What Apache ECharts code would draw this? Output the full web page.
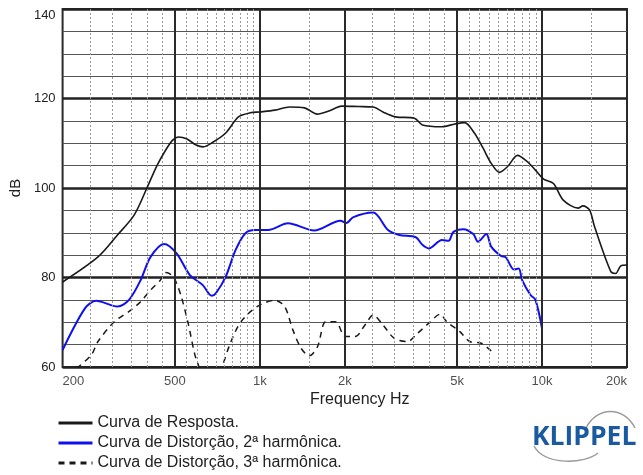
<!DOCTYPE html>
<html>
<head>
<meta charset="utf-8">
<script src="https://cdn.jsdelivr.net/npm/echarts/dist/echarts.min.js"></script>
<style>
  html, body { margin: 0; padding: 0; background: #fff; }
  #chart { width: 643px; height: 475px; }
</style>
</head>
<body>
<div id="chart"></div>
<script>
// frequency response (Hz / dB)
const respFreq = [200, 267, 313, 359, 398, 432, 464, 491, 515, 550, 595, 630, 677, 757, 840, 925, 1000, 1131, 1275, 1440, 1597, 1757, 1950, 2236, 2520, 2730, 3030, 3529, 3767, 4419, 4910, 5315, 5756, 6170, 6605, 7062, 7551, 8183, 8867, 9477, 10130, 10975, 11890, 13416, 13960, 14735, 15340, 17535, 18250, 19000, 20000];
const respDb = [79.0, 84.6, 89.5, 94.0, 100.0, 105.0, 108.5, 110.7, 111.4, 111.0, 109.6, 109.2, 110.1, 112.3, 115.9, 116.8, 117.0, 117.4, 118.1, 117.9, 116.5, 117.2, 118.3, 118.2, 118.1, 117.0, 115.9, 115.6, 114.1, 113.7, 114.3, 114.6, 112.3, 109.0, 105.5, 103.5, 104.8, 107.3, 105.9, 104.0, 102.0, 101.0, 97.3, 95.5, 96.0, 95.1, 91.4, 81.3, 80.9, 82.6, 82.8];

// 2nd harmonic distortion
const h2Freq = [200, 240, 263, 313, 344, 378, 410, 458, 507, 564, 628, 675, 699, 757, 820, 889, 963, 1071, 1258, 1558, 1929, 2025, 2147, 2520, 2845, 3120, 3570, 3767, 3970, 4419, 4664, 4853, 5265, 5706, 5930, 6350, 6605, 7158, 7442, 7950, 8270, 8500, 9100, 9477, 10000];
const h2Db = [63.8, 73.1, 74.8, 73.5, 75.0, 79.4, 84.6, 87.5, 85.4, 80.6, 78.3, 75.9, 76.5, 80.2, 86.1, 89.9, 90.6, 90.6, 92.1, 90.5, 92.7, 92.2, 93.5, 94.5, 90.6, 89.5, 89.0, 87.3, 86.5, 88.4, 88.2, 90.2, 90.8, 89.7, 88.0, 89.7, 86.9, 84.8, 84.5, 81.8, 82.0, 79.4, 76.1, 75.0, 68.6];

// 3rd harmonic distortion
const h3Freq = [224, 253, 267, 305, 349, 378, 410, 444, 465, 490, 507, 527, 557, 587, 603, 650, 700, 737, 777, 842, 913, 1002, 1131, 1225, 1309, 1400, 1497, 1600, 1712, 1854, 2010, 2177, 2359, 2520, 2730, 2996, 3337, 3617, 3970, 4357, 4598, 5115, 5544, 6089, 6605];
const h3Db = [59.7, 62.7, 65.7, 70.1, 72.7, 74.6, 77.2, 79.4, 81.1, 80.4, 78.7, 75.7, 69.8, 63.0, 60.8, 55.0, 55.0, 60.1, 64.5, 69.4, 72.0, 73.9, 74.9, 73.5, 68.3, 64.2, 62.5, 64.5, 70.1, 70.1, 66.8, 66.8, 69.4, 71.6, 69.4, 66.4, 65.7, 67.5, 69.8, 71.8, 70.1, 67.9, 65.7, 65.3, 63.6];

// axis ticks
const xTickVals = [200, 500, 1000, 2000, 5000, 10000, 20000];
const xTickLabels = ['200', '500', '1k', '2k', '5k', '10k', '20k'];
const majorX = [500, 1000, 2000, 5000, 10000];
const minorX = [250, 300, 350, 400, 450, 550, 600, 650, 700, 750, 800, 850, 900, 950, 1500, 2500, 3000, 3500, 4000, 4500, 5500, 6000, 6500, 7000, 7500, 8000, 8500, 9000, 9500, 15000];

const names = ['Curva de Resposta.', 'Curva de Distorção, 2ª harmônica.', 'Curva de Distorção, 3ª harmônica.'];

const font = '"Liberation Sans", Arial, sans-serif';
const zip = (xs, ys) => xs.map((x, i) => [x, ys[i]]);

const chart = echarts.init(document.getElementById('chart'));

const gridLines = majorX.map(v => ({ xAxis: v, lineStyle: { color: '#2a2a2a', width: 2, type: 'solid' } }))
  .concat(minorX.map(v => ({ xAxis: v, lineStyle: { color: '#999', width: 1, type: [2, 2] } })));

chart.setOption({
  animation: false,
  textStyle: { fontFamily: font },
  grid: { left: 56, right: 16, top: 9, bottom: 108, show: true, borderColor: '#2a2a2a', borderWidth: 2, backgroundColor: '#fff' },
  title: {
    text: 'Frequency Hz', left: 310, top: 392, padding: 0,
    textStyle: { fontSize: 16, fontWeight: 'normal', color: '#222', fontFamily: font }
  },
  legend: {
    orient: 'vertical', left: 57, top: 415, padding: 0, height: 70,
    itemWidth: 34, itemHeight: 14, itemGap: 4,
    data: names,
    itemStyle: { opacity: 0 },
    lineStyle: { width: 3 },
    textStyle: { fontSize: 16, color: '#222', fontFamily: font }
  },
  xAxis: {
    type: 'log', logBase: 10, min: 200, max: 20000,
    axisLabel: { show: false }, axisTick: { show: false }, axisLine: { show: false },
    splitLine: { show: false }, minorSplitLine: { show: false }
  },
  yAxis: {
    type: 'value', min: 60, max: 140, interval: 20,
    name: 'dB', nameLocation: 'middle', nameGap: 31,
    nameTextStyle: { fontSize: 15, color: '#222', fontFamily: font },
    axisLabel: { fontSize: 13, color: '#222', margin: 7, verticalAlignMaxLabel: 'top', fontFamily: font },
    axisTick: { show: false }, axisLine: { show: false },
    splitLine: { lineStyle: { color: '#222', width: 2.5 } },
    minorTick: { show: false, splitNumber: 4 },
    minorSplitLine: { show: true, lineStyle: { color: '#555', width: 1 } }
  },
  graphic: [
    { type: 'bezierCurve', shape: { x1: 586, y1: 428, x2: 635, y2: 428, cpx1: 597, cpy1: 406, cpx2: 624, cpy2: 406 }, style: { stroke: '#9a9a9a', lineWidth: 1.5, fill: null } },
    { type: 'bezierCurve', shape: { x1: 534, y1: 446, x2: 598, y2: 453, cpx1: 545, cpy1: 466, cpx2: 585, cpy2: 464 }, style: { stroke: '#9a9a9a', lineWidth: 1.5, fill: null } },
    { type: 'text', left: 532, top: 424, z: 10, style: { text: 'KLIPPEL', fontSize: 26.5, fontWeight: 'bold', fill: '#1a5a9e', fontFamily: '"Open Sans", sans-serif' } }
  ],
  series: [
    {
      name: 'grid', type: 'line', data: [[200, 60]], symbol: 'none', lineStyle: { opacity: 0 }, silent: true, z: 1,
      markLine: { silent: true, symbol: ['none', 'none'], label: { show: false }, animation: false, data: gridLines }
    },
    {
      name: 'ticks', type: 'scatter', symbolSize: 0, clip: false, silent: true,
      data: xTickVals.map((v, i) => ({
        value: [v, 60], name: xTickLabels[i],
        label: i === 0 ? { align: 'left' } : (i === xTickVals.length - 1 ? { align: 'right' } : {})
      })),
      label: { show: true, position: 'bottom', distance: 8, formatter: p => p.name, fontSize: 13, color: '#222', fontFamily: font }
    },
    {
      name: names[2], type: 'line', data: zip(h3Freq, h3Db), symbol: 'none', smooth: 0.3, clip: true, z: 3,
      lineStyle: { color: '#1a1a1a', width: 1.5, type: [6, 5] }, itemStyle: { color: '#1a1a1a' }
    },
    {
      name: names[1], type: 'line', data: zip(h2Freq, h2Db), symbol: 'none', smooth: 0.3, z: 4,
      lineStyle: { color: '#1010ee', width: 2 }, itemStyle: { color: '#1010ee' }
    },
    {
      name: names[0], type: 'line', data: zip(respFreq, respDb), symbol: 'none', smooth: 0.3, z: 5,
      lineStyle: { color: '#1a1a1a', width: 1.6 }, itemStyle: { color: '#1a1a1a' }
    }
  ]
});
</script>
</body>
</html>
